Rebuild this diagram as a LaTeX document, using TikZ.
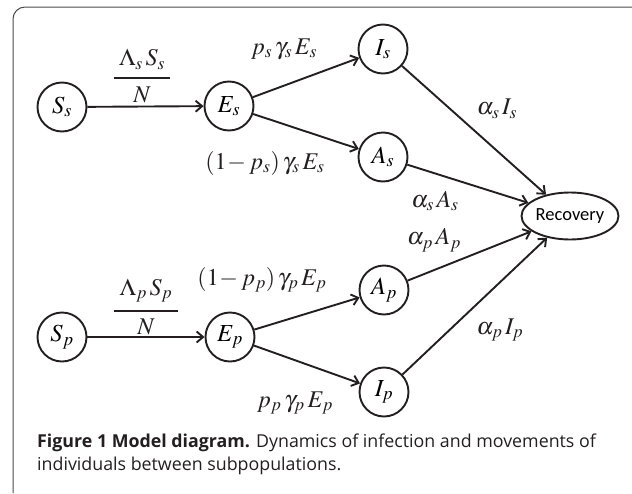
\documentclass[tikz,border=0pt]{standalone}
\usepackage{amsmath}
\usepackage{mathptmx}
\usepackage[no-math]{fontspec}
\usepackage{tikz}
\usetikzlibrary{arrows.meta,shapes.geometric}
\newfontfamily\capfont{Open Sans}
\newfontfamily\recfont{Carlito}
\definecolor{FrameGray}{HTML}{4A4A4A}
\definecolor{InkBlack}{HTML}{231F20}
\newcommand{\flowfrac}[2]{\genfrac{}{}{2.4pt}{0}{\;#1\;}{#2}}
\tikzset{
  comp/.style={circle,draw=InkBlack,line width=1.9pt,minimum size=49pt,
    inner sep=0pt,font=\fontsize{24.5}{26}\selectfont},
  flow/.style={-{Straight Barb[length=6.5pt,width=11pt,line width=1.9pt]},
    draw=InkBlack,line width=1.9pt},
  rate/.style={text=InkBlack,inner sep=0pt,font=\fontsize{24}{26}\selectfont}
}

\begin{document}
\begin{tikzpicture}[x=1pt,y=-1pt]
  \useasboundingbox (0,0) rectangle (632,493);

  % frame, only the top left corner shows
  \draw[FrameGray,line width=1pt,rounded corners=12pt]
    (13,493) -- (13,7) -- (632,7);

  % compartments
  \node[comp] (Ss) at (62,107) {$S_s$};
  \node[comp] (Es) at (229,106) {$E_s$};
  \node[comp] (Is) at (383,49) {$I_s$};
  \node[comp] (As) at (383,157) {$A_s$};
  \node[comp] (Sp) at (62,337) {$S_p$};
  \node[comp] (Ep) at (230,337) {$E_p$};
  \node[comp] (Ap) at (384,290) {$A_p$};
  \node[comp] (Ip) at (384,392) {$I_p$};
  \node[ellipse,draw=InkBlack,line width=1.9pt,minimum width=85pt,
    minimum height=47pt,inner sep=0pt,font=\recfont\fontsize{18.5}{20}\selectfont]
    (Rec) at (570,216) {Recovery};

  % flows
  \draw[flow] (Ss) -- (Es);
  \draw[flow] (Es) -- (Is);
  \draw[flow] (Es) -- (As);
  \draw[flow] (Is) -- (Rec);
  \draw[flow] (As) -- (Rec);
  \draw[flow] (Sp) -- (Ep);
  \draw[flow] (Ep) -- (Ap);
  \draw[flow] (Ep) -- (Ip);
  \draw[flow] (Ap) -- (Rec);
  \draw[flow] (Ip) -- (Rec);

  % rates
  \node[rate] (fs) at (142,76) {$\flowfrac{\Lambda_s\, S_s}{N}$};
  \node[rate] (fp) at (146,307) {$\flowfrac{\Lambda_p\, S_p}{N}$};
  \node[rate] (esis) at (284,49) {$p_s\,\gamma_s\,E_s$};
  \node[rate] (esas) at (265,163) {$(1\!-p_s)\,\gamma_s\,E_s$};
  \node[rate] (isr) at (497,109) {$\alpha_s\,I_s$};
  \node[rate] (asr) at (435,201) {$\alpha_s\,A_s$};
  \node[rate] (apr) at (434,240) {$\alpha_p\,A_p$};
  \node[rate] (ipr) at (500,330) {$\alpha_p\,I_p$};
  \node[rate] (epap) at (262,280) {$(1\!-p_p)\,\gamma_p\,E_p$};
  \node[rate] (epip) at (295,403) {$p_p\,\gamma_p\,E_p$};

  % caption
  \node[anchor=base west,align=left,inner sep=0pt,text=InkBlack,
    font=\capfont\fontsize{17.8}{23}\selectfont] (cap) at (37,470)
    {\textbf{Figure 1 Model diagram.} Dynamics of infection and movements of\\
     individuals between subpopulations.};
\end{tikzpicture}
\end{document}
